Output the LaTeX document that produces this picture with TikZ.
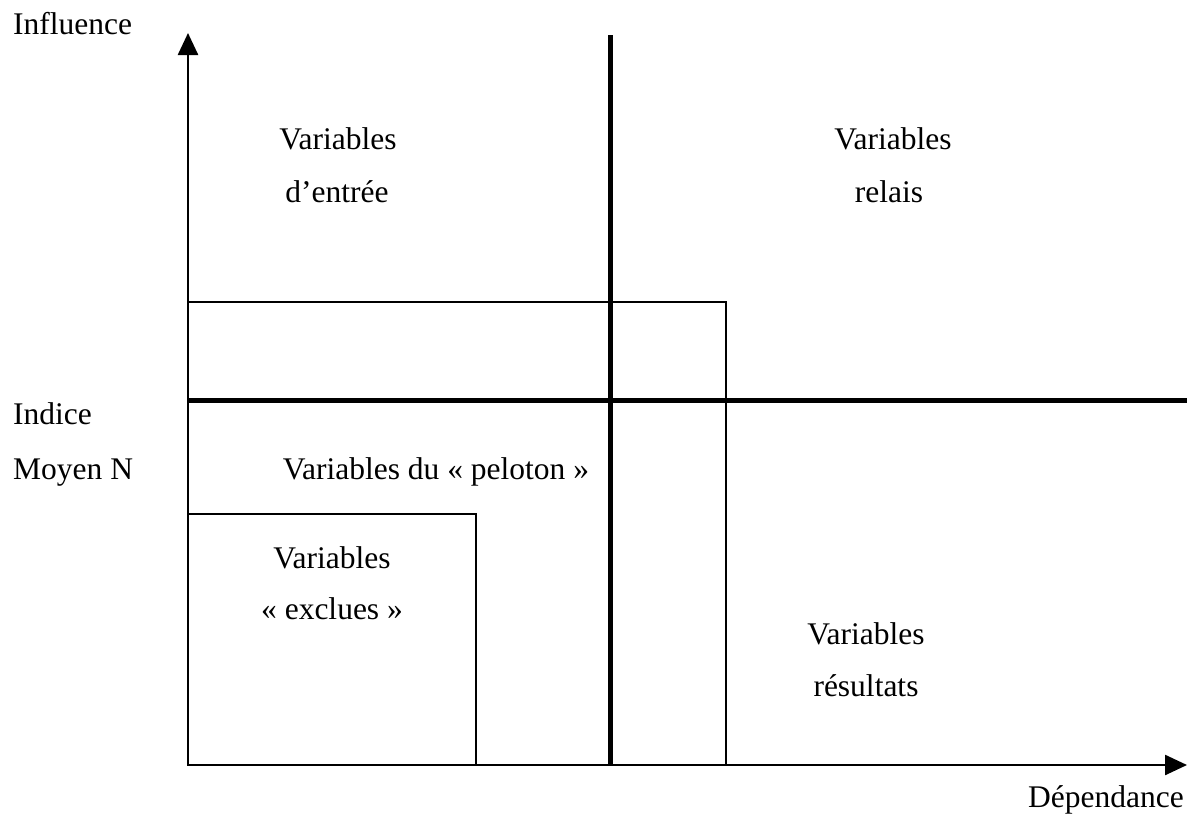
\documentclass[tikz,border=0pt]{standalone}
\usepackage{fontspec}
\setmainfont{Liberation Serif}
\usetikzlibrary{arrows.meta}
\begin{document}
\begin{tikzpicture}[x=1pt,y=-1pt,
  thinline/.style={line width=2pt},
  thickline/.style={line width=5pt},
  axis/.style={line width=2.5pt,-{Triangle[length=22pt,width=20pt]}},
  lbl/.style={font=\fontsize{31.5}{37}\selectfont,inner sep=0pt,anchor=base},
  lbll/.style={lbl,anchor=base west}]
\useasboundingbox (0,0) rectangle (1203,814);
% coordinates
\coordinate (O) at (188,765);
\coordinate (ytop) at (188,33);
\coordinate (xend) at (1187,765);
\coordinate (vtop) at (610,35);
\coordinate (vbot) at (610,765);
\coordinate (hleft) at (188,400);
\coordinate (hright) at (1187,400);
\coordinate (r1a) at (188,302);
\coordinate (r1b) at (726,765);
\coordinate (r2a) at (188,514);
\coordinate (r2b) at (476,765);
% thin rectangles
\draw[thinline] (r1a) rectangle (r1b);
\draw[thinline] (r2a) rectangle (r2b);
% thick lines
\draw[thickline] (vtop) -- (vbot);
\draw[thickline] (hleft) -- (hright);
% axes
\draw[axis] (O) -- (ytop);
\draw[axis] (O) -- (xend);
% labels
\node[lbll] (infl) at (13,34) {Influence};
\node[lbl] (e1) at (338,149) {Variables};
\node[lbl] (e2) at (337,202) {d’entrée};
\node[lbl] (r1) at (893,149) {Variables};
\node[lbl] (r2) at (889,202) {relais};
\node[lbll] (ind) at (13,424) {Indice};
\node[lbll] (moy) at (13,479) {Moyen N};
\node[lbl] (pel) at (436,479) {Variables du «~peloton~»};
\node[lbl] (x1) at (332,568) {Variables};
\node[lbl] (x2) at (332,619) {«~exclues~»};
\node[lbl] (s1) at (866,644) {Variables};
\node[lbl] (s2) at (866,696) {résultats};
\node[lbl] (dep) at (1106,807) {Dépendance};
\end{tikzpicture}
\end{document}
